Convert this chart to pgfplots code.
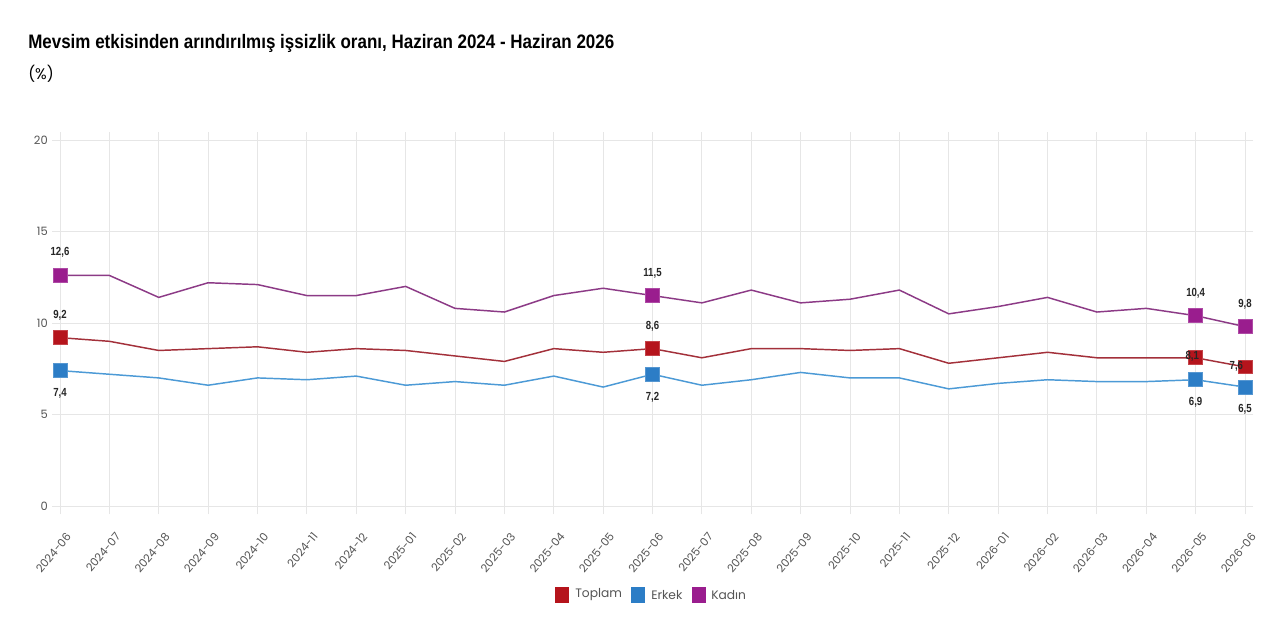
\documentclass[border=0pt]{standalone}
\usepackage{pgfplots}
\pgfplotsset{compat=1.18}
\usepackage{fontspec}
\setmainfont{Liberation Sans}
\newfontfamily\poppins{Poppins}
\definecolor{topC}{HTML}{B5141C}
\definecolor{topL}{HTML}{A3303A}
\definecolor{erkC}{HTML}{2C7DC6}
\definecolor{erkL}{HTML}{4C9AD6}
\definecolor{kadC}{HTML}{9A1D8E}
\definecolor{kadL}{HTML}{8C3A86}
\definecolor{gridC}{HTML}{E6E6E6}
\definecolor{tickC}{HTML}{555555}
\pgfplotsset{
  lbl/.style={nodes near coords={\scalebox{0.82}[1]{\bfseries\pgfmathprintnumber[use comma,fixed,fixed zerofill,precision=1]{\pgfplotspointmeta}}},
    every node near coord/.append style={font=\fontsize{8.8}{9}\selectfont, text=black!85, anchor=center}},
}
\begin{document}
\begin{tikzpicture}[x=0.75pt,y=-0.75pt]
\path[use as bounding box, fill=white] (0,0) rectangle (1280,640);
\node[anchor=base west, inner sep=0] at (28,48) {\resizebox{439.5pt}{10.6pt}{\bfseries Mevsim etkisinden arındırılmış işsizlik oranı, Haziran 2024 - Haziran 2026}};
\node[anchor=base west, inner sep=0] at (28,79) {\poppins\fontsize{11.5}{12}\selectfont (\%)};
\begin{axis}[
  at={(45pt,-379.5pt)}, anchor=south west,
  scale only axis, width=888.75pt, height=274.5pt,
  xmin=0, xmax=24, ymin=0, ymax=20,
  xtick={0,...,24},
  xticklabels={2024-06,2024-07,2024-08,2024-09,2024-10,2024-11,2024-12,2025-01,2025-02,2025-03,2025-04,2025-05,2025-06,2025-07,2025-08,2025-09,2025-10,2025-11,2025-12,2026-01,2026-02,2026-03,2026-04,2026-05,2026-06},
  ytick={0,5,10,15,20},
  axis line style={draw=none},
  grid=major, major grid style={gridC, line width=0.6pt},
  tick style={gridC, line width=0.6pt},
  tick align=outside, major tick length=6pt,
  xticklabel style={font=\poppins\fontsize{8.4}{9}\selectfont, text=tickC, rotate=50, anchor=north east, inner sep=0.5pt, yshift=-11pt, xshift=-7pt},
  yticklabel style={font=\poppins\fontsize{8.6}{9}\selectfont, text=tickC, inner sep=1pt, xshift=-2pt},
  /pgf/number format/assume math mode=true,
  clip=false,
]
% lines
\addplot[topL, line width=1.1pt, no marks] coordinates {(0,9.2)(1,9.0)(2,8.5)(3,8.6)(4,8.7)(5,8.4)(6,8.6)(7,8.5)(8,8.2)(9,7.9)(10,8.6)(11,8.4)(12,8.6)(13,8.1)(14,8.6)(15,8.6)(16,8.5)(17,8.6)(18,7.8)(19,8.1)(20,8.4)(21,8.1)(22,8.1)(23,8.1)(24,7.6)};
\addplot[erkL, line width=1.1pt, no marks] coordinates {(0,7.4)(1,7.2)(2,7.0)(3,6.6)(4,7.0)(5,6.9)(6,7.1)(7,6.6)(8,6.8)(9,6.6)(10,7.1)(11,6.5)(12,7.2)(13,6.6)(14,6.9)(15,7.3)(16,7.0)(17,7.0)(18,6.4)(19,6.7)(20,6.9)(21,6.8)(22,6.8)(23,6.9)(24,6.5)};
\addplot[kadL, line width=1.1pt, no marks] coordinates {(0,12.6)(1,12.6)(2,11.4)(3,12.2)(4,12.1)(5,11.5)(6,11.5)(7,12.0)(8,10.8)(9,10.6)(10,11.5)(11,11.9)(12,11.5)(13,11.1)(14,11.8)(15,11.1)(16,11.3)(17,11.8)(18,10.5)(19,10.9)(20,11.4)(21,10.6)(22,10.8)(23,10.4)(24,9.8)};
% labels above / below
\addplot[draw=none, no marks, lbl, every node near coord/.append style={yshift=17pt}] coordinates {(0,12.6)(12,11.5)(23,10.4)(24,9.8)};
\addplot[draw=none, no marks, lbl, every node near coord/.append style={yshift=17pt}] coordinates {(0,9.2)(12,8.6)};
\addplot[draw=none, no marks, lbl, every node near coord/.append style={yshift=-17pt}] coordinates {(0,7.4)(12,7.2)(23,6.9)(24,6.5)};
% markers
\addplot[only marks, mark=square*, mark size=5.2pt, mark options={fill=kadC, draw=kadC!80!white, line width=0.6pt}] coordinates {(0,12.6)(12,11.5)(23,10.4)(24,9.8)};
\addplot[only marks, mark=square*, mark size=5.2pt, mark options={fill=topC, draw=topC!80!white, line width=0.6pt}] coordinates {(0,9.2)(12,8.6)(23,8.1)(24,7.6)};
\addplot[only marks, mark=square*, mark size=5.2pt, mark options={fill=erkC, draw=erkC!80!white, line width=0.6pt}] coordinates {(0,7.4)(12,7.2)(23,6.9)(24,6.5)};
% overlapping labels drawn on top
\addplot[draw=none, no marks, lbl, every node near coord/.append style={xshift=-2.5pt, yshift=0.8pt}] coordinates {(23,8.1)};
\addplot[draw=none, no marks, lbl, every node near coord/.append style={xshift=-6.5pt, yshift=0.3pt}] coordinates {(24,7.6)};
\end{axis}
% legend
\fill[topC] (555,587) rectangle (569,603);
\node[anchor=west, inner sep=0, text=tickC] at (575,595) {\poppins\fontsize{9.2}{10}\selectfont Toplam};
\fill[erkC] (631,587) rectangle (645,603);
\node[anchor=west, inner sep=0, text=tickC] at (651,595) {\poppins\fontsize{9.2}{10}\selectfont Erkek};
\fill[kadC] (692,587) rectangle (706,603);
\node[anchor=west, inner sep=0, text=tickC] at (711,595) {\poppins\fontsize{9.2}{10}\selectfont Kadın};
\end{tikzpicture}
\end{document}
